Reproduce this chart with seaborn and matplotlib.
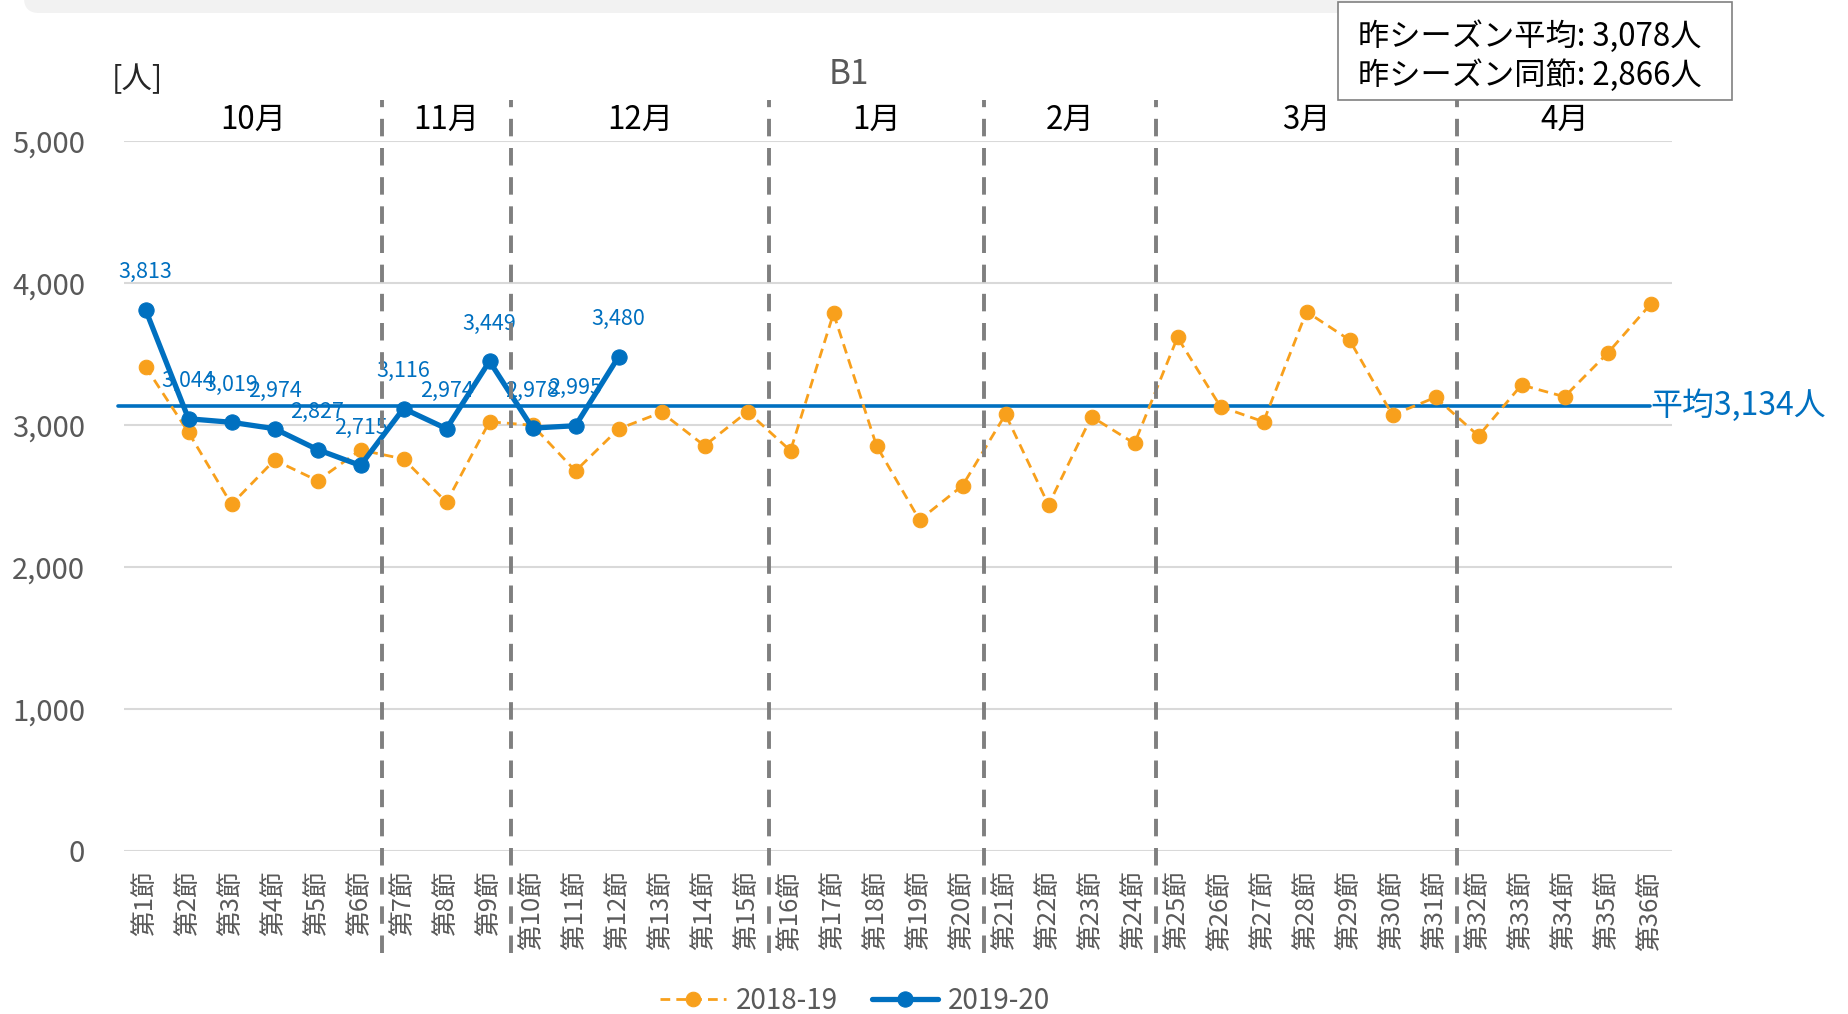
import numpy as np
import pandas as pd
import seaborn as sns
import matplotlib
matplotlib.use('Agg')
import matplotlib.pyplot as plt
from matplotlib.patches import FancyBboxPatch, Rectangle

# data
games = np.arange(1, 37)
game_labels = [f'第{i}節' for i in games]
att_1819 = [3411, 2948, 2441, 2753, 2608, 2824, 2761, 2456, 3023, 2998, 2676, 2972,
            3089, 2854, 3094, 2819, 3786, 2854, 2331, 2573, 3075, 2437, 3059, 2870,
            3617, 3129, 3023, 3798, 3599, 3070, 3195, 2923, 3282, 3199, 3505, 3850]
att_1920 = [3813, 3044, 3019, 2974, 2827, 2715, 3116, 2974, 3449, 2978, 2995, 3480]
avg_1920 = 3134
months = ['10月', '11月', '12月', '1月', '2月', '3月', '4月']
games_per_month = [6, 3, 6, 5, 4, 7, 5]
ytick_vals = [0, 1000, 2000, 3000, 4000, 5000]
ytick_labels = ['0', '1,000', '2,000', '3,000', '4,000', '5,000']
box_lines = ['昨シーズン平均: 3,078人', '昨シーズン同節: 2,866人']

ORANGE = '#F8A01C'
BLUE = '#0070C0'
GRAY = '#595959'

sns.set_style('white')
plt.rcParams['font.family'] = ['Noto Sans CJK JP', 'DejaVu Sans']

W, H = 1849, 1014
fig = plt.figure(figsize=(W / 100, H / 100), dpi=100)
ax = fig.add_axes([124 / W, 1 - 851 / H, (1672 - 124) / W, 710 / H])

# light band at top of the page
band = FancyBboxPatch((24 / 100, (H - 13) / 100), 1656 / 100, 0.5,
                      boxstyle='round,pad=0,rounding_size=0.15',
                      transform=fig.dpi_scale_trans, facecolor='#F2F2F2',
                      edgecolor='none')
fig.add_artist(band)

df18 = pd.DataFrame({'節': games, '入場者数': att_1819})
df19 = pd.DataFrame({'節': games[:len(att_1920)], '入場者数': att_1920})

sns.lineplot(data=df18, x='節', y='入場者数', ax=ax, color=ORANGE, lw=2,
             linestyle=(0, (3.5, 2.2)), marker='o', markersize=10.5,
             markeredgecolor=ORANGE, label='2018-19', zorder=3)
sns.lineplot(data=df19, x='節', y='入場者数', ax=ax, color=BLUE, lw=3.8,
             marker='o', markersize=11, markeredgecolor=BLUE,
             label='2019-20', zorder=4)

# season average line
ax.axhline(avg_1920, xmin=-0.004, xmax=0.986, color=BLUE, lw=2.6,
           clip_on=False, zorder=2)
ax.text(0.986, avg_1920, f'平均{avg_1920:,}人', transform=ax.get_yaxis_transform(),
        ha='left', va='center', fontsize=23, color=BLUE)

# data labels
for x, v in zip(df19['節'], df19['入場者数']):
    ax.annotate(f'{v:,}', (x, v), xytext=(0, 27), textcoords='offset points',
                ha='center', va='center', fontsize=15.5, color=BLUE, zorder=5)

# month separators and labels
edges = np.concatenate([[0], np.cumsum(games_per_month)]) + 0.5
for b in edges[1:-1]:
    ax.axvline(b, ymin=-0.144, ymax=1.058, color='#7F7F7F', lw=2.8,
               linestyle=(0, (4.5, 3.0)), clip_on=False, zorder=6)
for m, a, b in zip(months, edges[:-1], edges[1:]):
    ax.text((a + b) / 2, 1.03, m, transform=ax.get_xaxis_transform(),
            ha='center', va='center', fontsize=22.5, color='black')

ax.set_xlim(0.5, 36.5)
ax.set_ylim(0, 5000)
ax.set_yticks(ytick_vals)
ax.set_yticklabels(ytick_labels)
ax.set_xticks(games)
ax.set_xticklabels(game_labels, rotation=90)
ax.tick_params(axis='y', length=0, pad=28, labelsize=21, labelcolor=GRAY)
ax.tick_params(axis='x', length=0, pad=14, labelsize=18.5, labelcolor=GRAY)
ax.set_xlabel('')
ax.set_ylabel('')
ax.yaxis.grid(True, color='#D9D9D9', lw=1.5)
ax.xaxis.grid(False)
ax.set_axisbelow(True)
sns.despine(ax=ax, left=True, bottom=True)

handles, labels = ax.get_legend_handles_labels()
ax.get_legend().remove()
fig.legend(handles, labels, loc='center', bbox_to_anchor=(855 / W, 1 - 1001 / H),
           ncol=2, frameon=False, fontsize=20, handlelength=2.4,
           columnspacing=1.2, handletextpad=0.35, labelcolor=GRAY)

fig.text(849 / W, 1 - 74 / H, 'B1', ha='center', va='center', fontsize=24, color=GRAY)
fig.text(137 / W, 1 - 80 / H, '[人]', ha='center', va='center', fontsize=22, color='#262626')

# last-season summary box
fig.add_artist(Rectangle((1338 / 100, (H - 100) / 100), 394 / 100, 98 / 100,
                         transform=fig.dpi_scale_trans, facecolor='white',
                         edgecolor='#808080', lw=1.2))
for i, line in enumerate(box_lines):
    fig.text(1358 / W, 1 - (37 + 39 * i) / H, line, ha='left', va='center',
             fontsize=22.5, color='black')

fig.savefig('out.png', dpi=100)
